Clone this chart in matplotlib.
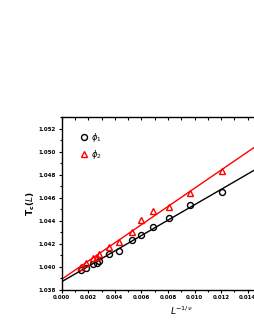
import numpy as np
import matplotlib.pyplot as plt
from matplotlib.ticker import MultipleLocator, FormatStrFormatter

# L^(-1/nu) values and Tc(L) estimates
x_phi1 = [0.00145, 0.0018, 0.00233, 0.00263, 0.00283, 0.00356, 0.00429,
          0.0053, 0.00599, 0.00686, 0.00807, 0.00965, 0.0121]
tc_phi1 = [1.03971, 1.03986, 1.04023, 1.04034, 1.04052, 1.0411, 1.04136,
           1.04235, 1.04278, 1.04343, 1.04424, 1.04535, 1.04648]

x_phi2 = [0.00145, 0.0018, 0.00233, 0.00263, 0.00283, 0.00356, 0.00429,
          0.0053, 0.00599, 0.00686, 0.00807, 0.00965, 0.0121]
tc_phi2 = [1.0400, 1.04029, 1.04073, 1.04087, 1.0411, 1.04169, 1.04217,
           1.04305, 1.04407, 1.04482, 1.04517, 1.04644, 1.04831]

plt.rcParams['font.family'] = 'DejaVu Sans'

fig = plt.figure(figsize=(2.55, 3.3), dpi=100)
ax = fig.add_axes([0.242, 0.1224, 0.758, 0.522])

xx = np.linspace(0, 0.0146, 50)
p1 = np.polyfit(x_phi1, tc_phi1, 1)
p2 = np.polyfit(x_phi2, tc_phi2, 1)
ax.plot(xx, np.polyval(p1, xx), color='black', lw=1.0)
ax.plot(xx, np.polyval(p2, xx), color='red', lw=1.0)

ax.plot(x_phi1, tc_phi1, 'o', mfc='none', mec='black', ms=4.3, mew=1.0,
        label=r'$\phi_1$')
ax.plot(x_phi2, tc_phi2, '^', mfc='none', mec='red', ms=5, mew=1.0,
        label=r'$\phi_2$')

ax.set_xlim(0, 0.01455)
ax.set_ylim(1.038, 1.053)
ax.xaxis.set_major_locator(MultipleLocator(0.002))
ax.xaxis.set_minor_locator(MultipleLocator(0.001))
ax.yaxis.set_major_locator(MultipleLocator(0.002))
ax.yaxis.set_minor_locator(MultipleLocator(0.001))
ax.xaxis.set_major_formatter(FormatStrFormatter('%.3f'))
ax.yaxis.set_major_formatter(FormatStrFormatter('%.3f'))

ax.tick_params(which='both', direction='out', labelsize=4, width=0.8, pad=1.5)
ax.tick_params(which='major', length=2.5)
ax.tick_params(which='minor', length=1.5)
# top axis: inward ticks, no labels
ax.xaxis.set_ticks_position('both')
for t in ax.xaxis.get_major_ticks() + ax.xaxis.get_minor_ticks():
    t.tick2line.set_marker(3)
    t.tick2line.set_markersize(2.5)
for lab in ax.get_xticklabels() + ax.get_yticklabels():
    lab.set_fontweight('bold')
ax.spines['right'].set_visible(False)
for s in ['left', 'bottom', 'top']:
    ax.spines[s].set_linewidth(1.0)

ax.set_ylabel(r'T$_\mathregular{c}$($L$)', fontsize=6.5, fontweight='bold',
              labelpad=1.5)
ax.set_xlabel(r'$L^{-1/\nu}$', fontsize=6.5, labelpad=4)
ax.xaxis.set_label_coords(0.62, -0.088)

ax.legend(loc='upper left', bbox_to_anchor=(0.05, 0.965), frameon=False,
          fontsize=6, handletextpad=0.3, labelspacing=0.5, handlelength=1.2)

fig.savefig('out.png', dpi=100)
